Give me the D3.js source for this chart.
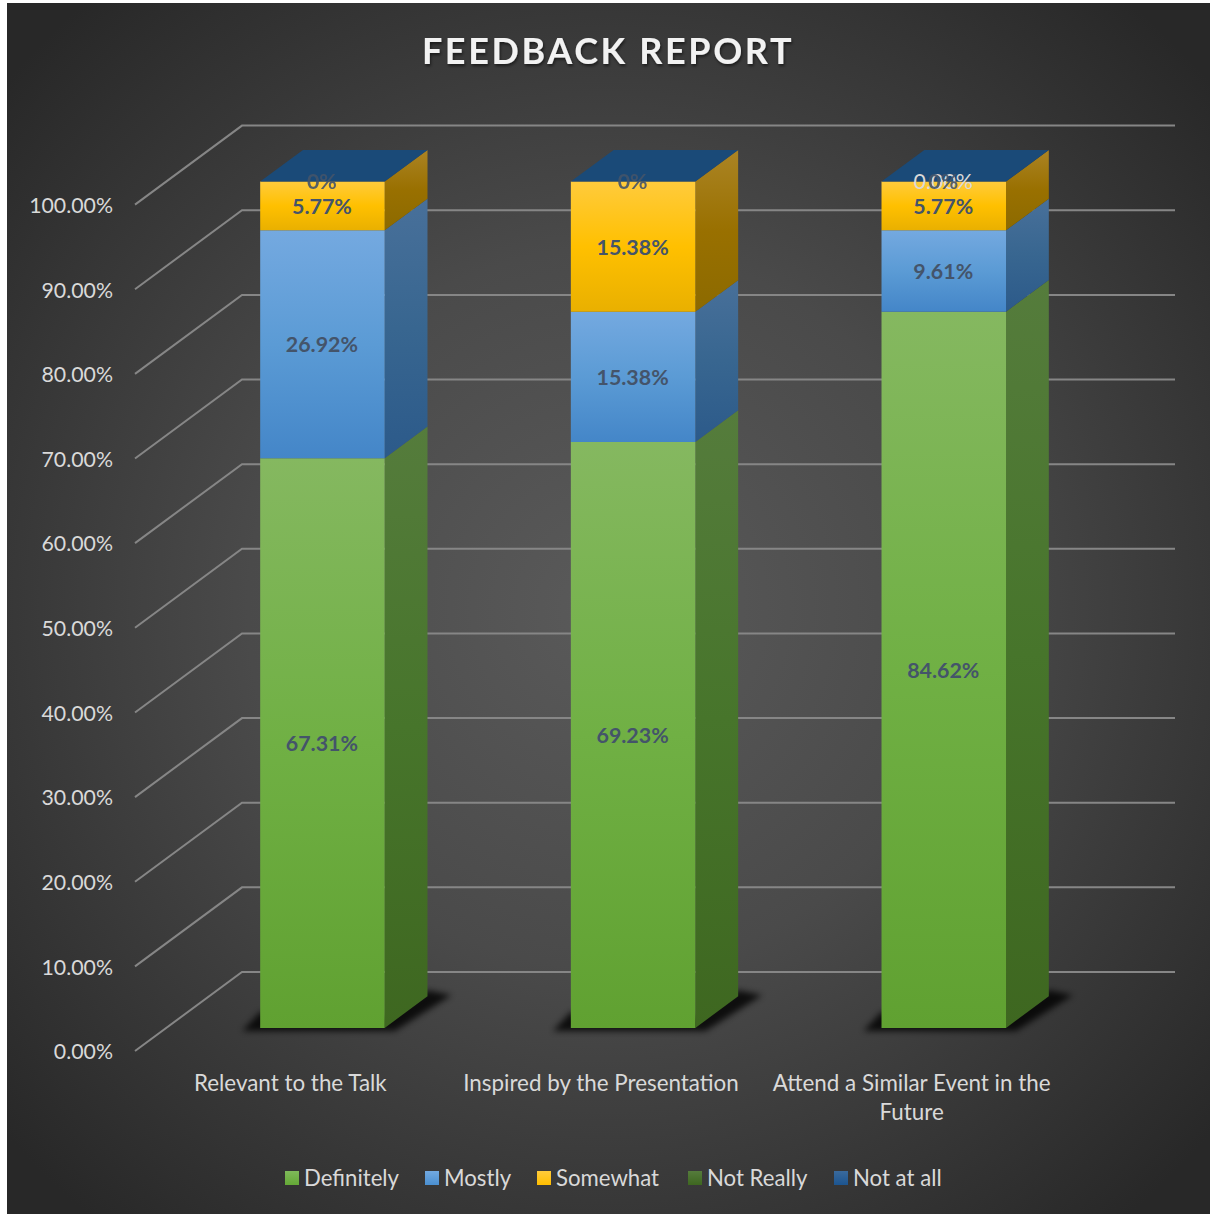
<!DOCTYPE html>
<html><head><meta charset="utf-8">
<script src="https://cdn.jsdelivr.net/npm/d3@7/dist/d3.min.js"></script>
<style>html,body{margin:0;padding:0;background:#fff}svg{display:block}text{font-family:Lato,"Open Sans",sans-serif}</style>
</head><body><svg id="c" width="1210" height="1214"></svg>
<script>
const title = "FEEDBACK REPORT";
const categories = ["Relevant to the Talk","Inspired by the Presentation","Attend a Similar Event in the Future"];
const categoryLines = [["Relevant to the Talk"],["Inspired by the Presentation"],["Attend a Similar Event in the","Future"]];
const seriesNames = ["Definitely","Mostly","Somewhat","Not Really","Not at all"];
const definitely = [67.31,69.23,84.62];
const mostly = [26.92,15.38,9.61];
const somewhat = [5.77,15.38,5.77];
const notReally = [0,0,0];
const notAtAll = [0,0,0];
const notReallyLabels = ["","","0.00%"];
const notAtAllLabels = ["0%","0%","0%"];
const seriesValues = [definitely,mostly,somewhat,notReally,notAtAll];
const ticks = [0,10,20,30,40,50,60,70,80,90,100];

const W=1210,H=1214;
const svg=d3.select("#c");
const defs=svg.append("defs");
const bg=defs.append("radialGradient").attr("id","bg").attr("gradientUnits","userSpaceOnUse")
 .attr("cx",608).attr("cy",608).attr("r",800);
[[0,"#5a5a5a"],[.45,"#4a4a4a"],[1,"#282828"]].forEach(s=>bg.append("stop").attr("offset",s[0]).attr("stop-color",s[1]));
const grad=(id,stops)=>{const g=defs.append("linearGradient").attr("id",id).attr("x1",0).attr("y1",0).attr("x2",0).attr("y2",1);
 stops.forEach((c,i)=>g.append("stop").attr("offset",i/(stops.length-1)).attr("stop-color",c));};
const frontCols=[["#85b860","#70b044","#60a131"],["#74a9e0","#5b9bd5","#4486c8"],["#ffcb3c","#ffc000","#e9b000"]];
const sideCols=[["#557c3c","#47752b","#3e6720"],["#48709a","#386690","#2c5a8a"],["#ab8424","#997000","#8c6a00"]];
frontCols.forEach((c,i)=>grad("f"+i,c));
sideCols.forEach((c,i)=>grad("s"+i,c));
grad("lg0",["#7fb95a","#64a836"]);grad("lg1",["#72a9e0","#4a8fd0"]);grad("lg2",["#ffcb3c","#ffbe00"]);grad("lg3",["#557c3c","#3e6720"]);grad("lg4",["#3a6a9c","#1c5590"]);
const blur=defs.append("filter").attr("id","blur").attr("x","-20%").attr("y","-50%").attr("width","140%").attr("height","200%");
blur.append("feGaussianBlur").attr("stdDeviation",3);
const soft=defs.append("filter").attr("id","ts").attr("x","-10%").attr("y","-20%").attr("width","120%").attr("height","150%");
soft.append("feDropShadow").attr("dx",1).attr("dy",2).attr("stdDeviation",1.5).attr("flood-color","#000").attr("flood-opacity",.55);

svg.append("rect").attr("x",7).attr("y",3).attr("width",W-7).attr("height",H-3).attr("fill","url(#bg)");

// scales: front wall edge + depth axis
const x=d3.scaleBand().domain(categories).range([135,1067]).paddingInner(0).paddingOuter(0);
const y=d3.scaleLinear().domain([0,100]).range([1051,204.6]);
const dX=d3.scaleLinear().domain([0,1]).range([0,107]);
const dY=d3.scaleLinear().domain([0,1]).range([0,-79]);
const pr=(xx,v,d)=>[xx+dX(d),y(v)+dY(d)];
const line=d3.line();

// gridlines on walls
const grid=svg.append("g").attr("fill","none").attr("stroke","#868686").attr("stroke-width",2);
grid.selectAll("path").data(ticks).join("path")
 .attr("d",t=>line([pr(135,t,0),pr(135,t,1),pr(1068,t,1)]));

// y tick labels
svg.append("g").selectAll("text").data(ticks).join("text")
 .attr("x",113).attr("y",t=>y(t)+8.3).attr("text-anchor","end")
 .attr("font-size",21.3).attr("fill","#d9d9d9").text(t=>d3.format(".2f")(t)+"%");

// bars
const barW=124.5, d0=.3, d1=.7;
const barG=svg.append("g").attr("transform","translate(0,0.6)");
categories.forEach((c,ci)=>{
 const l=x(c)+x.bandwidth()/2-barW/2, r=l+barW;
 const L=l+dX(d0), R=r+dX(d0);
 const base=y(0)+dY(d0), back=y(0)+dY(d1), run=dX(d1)-dX(d0);
 // base shadow
 barG.append("path").attr("fill","#000").attr("opacity",.8).attr("filter","url(#blur)")
  .attr("d",line([[L-18,base+3],[R+10,base+3],[R+run+24,back-1],[R+run,back-6],[R,base-10],[L,base-16]])+"Z");
 let acc=0;
 seriesValues.forEach((vals,si)=>{
  const v=vals[ci], a=acc, b=acc+v; acc=b;
  if(v<=0) return;
  const g=barG.append("g");
  g.append("path").attr("fill",`url(#s${si})`)
   .attr("d",line([pr(r,a,d0),pr(r,a,d1),pr(r,b,d1),pr(r,b,d0)])+"Z");
  g.append("path").attr("fill",`url(#f${si})`)
   .attr("d",line([pr(l,a,d0),pr(r,a,d0),pr(r,b,d0),pr(l,b,d0)])+"Z");
 });
 // top face
 const sum=d3.sum(seriesValues,s=>s[ci]);
 barG.append("path").attr("fill","#1a4a78")
  .attr("d",line([pr(l,sum,d0),pr(r,sum,d0),pr(r,sum,d1),pr(l,sum,d1)])+"Z");
});

// data labels
const lab=svg.append("g").attr("text-anchor","middle").attr("font-size",21.4).attr("font-weight",700);
const dark="#44546a";
categories.forEach((c,ci)=>{
 const cx=x(c)+x.bandwidth()/2+dX(d0)-.5;
 let acc=0;
 [definitely,mostly,somewhat].forEach(vals=>{
  const v=vals[ci], m=acc+v/2; acc+=v;
  lab.append("text").attr("x",cx).attr("y",y(m)+dY(d0)+8.6).attr("fill",dark).text(d3.format(".2f")(v)+"%");
 });
 if(notReallyLabels[ci]) lab.append("text").attr("x",cx).attr("y",y(acc)+dY(d0)+8).attr("fill","#d9d9d9").attr("font-weight",400).text(notReallyLabels[ci]);
 lab.append("text").attr("x",cx).attr("y",y(acc)+dY(d0)+8).attr("fill",dark).attr("opacity",.9).text(notAtAllLabels[ci]);
});

// category labels
const cat=svg.append("g").attr("text-anchor","middle").attr("font-size",22.4).attr("fill","#d9d9d9");
categories.forEach((c,i)=>{
 categoryLines[i].forEach((t,j)=>cat.append("text").attr("x",x(c)+x.bandwidth()/2).attr("y",1090.5+j*29).text(t));
});

// title
svg.append("text").attr("x",608).attr("y",64).attr("text-anchor","middle").attr("font-size",36).attr("font-weight",700)
 .attr("letter-spacing",2.6).attr("fill","#f2f2f2").attr("filter","url(#ts)").text(title);

// legend
const legendX=d3.scaleOrdinal().domain(seriesNames).range([285,425,537,688,834]);
const leg=svg.append("g").selectAll("g").data(seriesNames).join("g").attr("transform",d=>`translate(${legendX(d)},1171)`);
leg.append("rect").attr("width",14).attr("height",14).attr("fill",(d,i)=>`url(#lg${i})`);
leg.append("text").attr("x",19).attr("y",14.5).attr("font-size",22.2).attr("fill","#d9d9d9").text(d=>d);
</script></body></html>
